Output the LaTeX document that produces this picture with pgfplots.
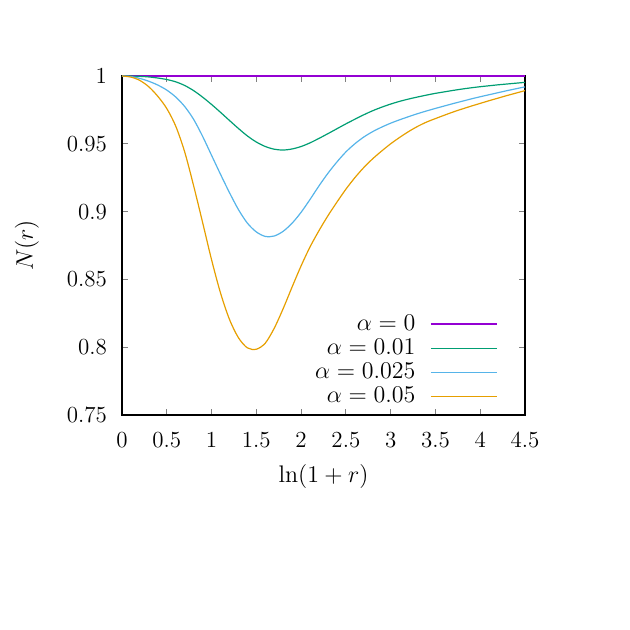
\documentclass[border=0pt]{standalone}
\usepackage{pgfplots}
\usepackage{pgfplotstable}
\pgfplotsset{compat=1.18}

\definecolor{gpPurple}{HTML}{9400D3}
\definecolor{gpGreen}{HTML}{009E73}
\definecolor{gpBlue}{HTML}{56B4E9}
\definecolor{gpOrange}{HTML}{E69F00}

% N(r), one column per alpha
\pgfplotstableread{
x     a001    a0025   a005
0.0   1.00000 1.0000  1.0000
0.1   0.99995 0.9996  0.9992
0.2   0.99975 0.9982  0.9967
0.3   0.9993  0.9961  0.9920
0.4   0.9985  0.9933  0.9850
0.5   0.9974  0.9896  0.9760
0.6   0.9957  0.9845  0.9630
0.7   0.9930  0.9775  0.9440
0.8   0.9892  0.9680  0.9190
0.9   0.9844  0.9555  0.8920
1.0   0.9790  0.9415  0.8645
1.1   0.9732  0.9275  0.8400
1.2   0.9672  0.9140  0.8205
1.3   0.9613  0.9015  0.8070
1.4   0.9558  0.8915  0.7995
1.5   0.9513  0.8850  0.7985
1.6   0.9480  0.8817  0.8030
1.7   0.9460  0.8820  0.8140
1.8   0.9454  0.8855  0.8285
1.9   0.9462  0.8915  0.8445
2.0   0.9480  0.8995  0.8600
2.1   0.9507  0.9090  0.8740
2.2   0.9540  0.9190  0.8860
2.3   0.9575  0.9283  0.8970
2.4   0.9611  0.9366  0.9070
2.5   0.9647  0.9440  0.9165
2.6   0.9681  0.9500  0.9250
2.7   0.9714  0.9550  0.9325
2.8   0.9744  0.9590  0.9390
2.9   0.9770  0.9623  0.9447
3.0   0.9793  0.9652  0.9500
3.1   0.9813  0.9677  0.9547
3.2   0.9830  0.9700  0.9590
3.3   0.9845  0.9722  0.9628
3.4   0.9859  0.9742  0.9660
3.5   0.9872  0.9761  0.9686
3.6   0.9883  0.9779  0.9711
3.7   0.9894  0.9797  0.9735
3.8   0.9904  0.9814  0.9757
3.9   0.9913  0.9831  0.9778
4.0   0.9921  0.9847  0.9798
4.1   0.9928  0.9862  0.9818
4.2   0.9935  0.9877  0.9837
4.3   0.9941  0.9892  0.9856
4.4   0.9947  0.9906  0.9874
4.5   0.9953  0.9920  0.9892
}\curves

\begin{document}
\begin{tikzpicture}
\useasboundingbox (0,0) rectangle (315pt,315pt);
\begin{axis}[
  at={(61pt,107.5pt)}, anchor=south west,
  scale only axis,
  width=201.5pt, height=169.5pt,
  xmin=0, xmax=4.5, ymin=0.75, ymax=1,
  xtick={0,0.5,...,4.5},
  ytick={0.75,0.8,...,1.0},
  xticklabels={0,0.5,1,1.5,2,2.5,3,3.5,4,4.5},
  yticklabels={0.75,0.8,0.85,0.9,0.95,1},
  font=\fontsize{11.5}{13}\selectfont,
  tick align=inside,
  major tick length=3pt,
  tick style={gray, line width=0.6pt},
  axis line style={black, line width=0.6pt},
  xticklabel style={yshift=-5pt},
  yticklabel style={xshift=-4pt},
  xlabel={$\ln(1+r)$},
  ylabel={$N(r)$},
  xlabel style={at={(axis description cs:0.5,-0.18)}, anchor=center},
  ylabel style={at={(axis description cs:-0.236,0.5)}, anchor=center},
  clip=false,
  legend plot pos=right,
  legend cell align=right,
  legend style={at={(0.933,0.015)}, anchor=south east, draw=none, fill=none,
    inner sep=0pt, row sep=-1.2pt, font=\fontsize{11.5}{12.2}\selectfont},
  legend image code/.code={\path (0pt,0pt); \draw[#1, line width=0.6pt] (5.5pt,0pt) -- (38.5pt,0pt);},
  every axis plot/.append style={line width=0.6pt},
]
\addplot[gpPurple] coordinates {(0,1) (4.5,1)};
\addlegendentry{$\alpha=0$}
\addplot[gpGreen, smooth, tension=0.5] table[x=x, y=a001] {\curves};
\addlegendentry{$\alpha=0.01$}
\addplot[gpBlue, smooth, tension=0.5] table[x=x, y=a0025] {\curves};
\addlegendentry{$\alpha=0.025$}
\addplot[gpOrange, smooth, tension=0.5] table[x=x, y=a005] {\curves};
\addlegendentry{$\alpha=0.05$}
\end{axis}
\end{tikzpicture}
\end{document}
